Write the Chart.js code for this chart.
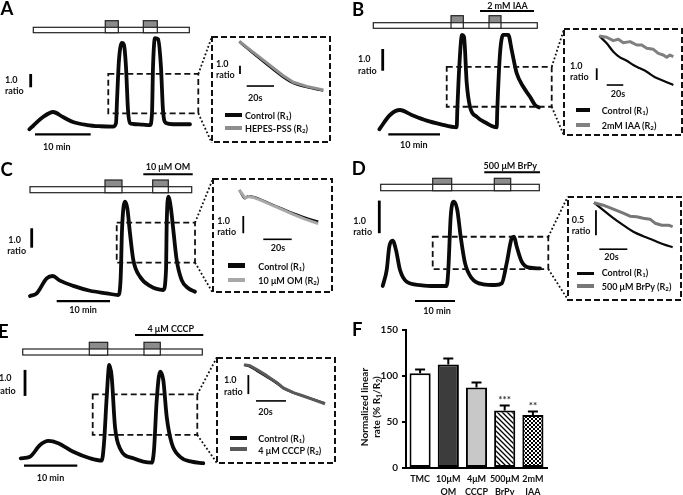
<!DOCTYPE html>
<html><head><meta charset="utf-8">
<script src="https://cdn.jsdelivr.net/npm/chart.js@4.4.1/dist/chart.umd.min.js"></script>
<style>
html,body{margin:0;padding:0;background:#fff}
body{position:relative;width:683px;height:495px;overflow:hidden;font-family:Lato,"Open Sans",sans-serif}
canvas{position:absolute}
.t{position:absolute;white-space:nowrap;font-weight:700;font-size:9px;line-height:1;color:#111;transform:translateY(-50%)}
.t sub{font-size:0.68em;vertical-align:-0.2em;line-height:0}
.c{transform:translate(-50%,-50%)}
.big{font-size:18.5px;color:#000}
.sw{position:absolute}
.yt{position:absolute;white-space:nowrap;font-weight:700;font-size:10px;line-height:11.7px;text-align:center;color:#111;transform:translate(-50%,-50%) rotate(-90deg)}
.yt sub{font-size:0.68em;vertical-align:-0.2em;line-height:0}
</style></head><body>
<script>
// ================= DATA =================
// Panel A — main Ca2+ trace (time, min ; fura-2 ratio)
const A_time  = [0,0.66,2.46,4.26,6.05,7.85,10.36,12.69,15.03,15.57,15.75,16.10,16.64,17.00,17.36,17.72,18.08,18.62,20.41,21.67,22.03,22.21,22.57,23.11,23.64,24.00,24.54,25.80,28.85];
const A_ratio = [0.50,0.75,1.42,1.80,1.42,1.05,0.82,0.73,0.70,0.97,2.70,5.71,6.99,6.83,5.18,1.95,0.97,0.90,0.85,0.82,1.73,5.18,7.36,7.28,5.18,1.95,0.97,0.88,0.88];
const A_perfusion  = [0.72, 28.73];
const A_pulseStart = [13.64, 20.47];
const A_pulseEnd   = [15.98, 22.98];
const A_zoomBox    = [14.18, 30.34, 1.70, 4.66];
const A_inTime     = [0,4.2,17.6,32.2,39.6,49.4,61.5];   // s
const A_inCtrl     = [8.00,7.40,5.59,3.71,2.99,2.51,2.10];
const A_inTestTime = [0,4.2,17.6,32.2,39.6,49.4,61.5];
const A_inTest     = [8.05,7.50,5.78,3.90,3.12,2.62,2.18];

// Panel B — 2 mM IAA
const B_time  = [0,2.07,4.00,6.27,9.17,11.74,14.97,15.09,15.47,16.00,16.38,16.91,17.54,18.84,20.77,22.71,22.82,23.35,23.98,24.95,25.61,26.58,27.85,29.15,30.12,30.89];
const B_ratio = [0.50,1.16,1.39,1.16,0.90,0.74,0.59,1.39,3.38,4.85,4.77,2.63,1.54,1.08,0.78,0.59,1.39,4.00,4.85,4.85,4.15,3.08,2.46,2.00,1.62,1.51];
const B_perfusion  = [-1.16, 30.56];
const B_pulseStart = [13.87, 21.22];
const B_pulseEnd   = [16.25, 23.54];
const B_drug       = [19.48, 29.92];
const B_zoomBox    = [13.04, 33.35, 1.54, 3.38];
const B_inTime     = [0,8.9,16.9,24.9,33.0,41.0,49.0,57.1,67.1,77.1,89.2];
const B_inCtrl     = [8.00,7.38,6.66,6.18,5.89,5.52,5.24,4.95,4.47,4.18,3.81];
const B_inTestTime = [0,8.9,16.9,22.9,28.9,37.0,45.1,51.1,57.1,65.1,71.1,77.1,81.2,85.2,89.2];
const B_inTest     = [8.00,7.89,7.60,7.72,7.43,7.52,7.23,7.23,6.95,6.86,6.52,6.38,6.18,6.38,6.23];

// Panel C — 10 µM oligomycin
const C_time  = [0,1.26,3.13,4.26,5.63,8.12,11.26,14.39,16.57,17.02,17.26,17.82,18.26,18.76,19.38,20.64,22.51,25.01,25.52,25.65,25.95,26.40,26.89,27.52,28.46,29.70,30.96];
const C_ratio = [0.50,0.64,1.41,1.53,1.29,1.02,0.77,0.64,0.55,1.49,3.90,5.36,5.02,3.73,2.36,1.49,1.02,0.81,1.84,4.25,5.62,5.10,3.90,2.36,1.32,0.90,0.72];
const C_perfusion  = [0, 30.34];
const C_pulseStart = [14.07, 23.02];
const C_pulseEnd   = [17.26, 25.95];
const C_drug       = [21.26, 30.53];
const C_zoomBox    = [16.27, 30.96, 2.22, 4.28];
const C_inTime     = [0,4.0,6.3,9.9,16.7,23.9,30.8,38.0,46.3,55.6];
const C_inCtrl     = [8.00,7.52,7.65,7.60,7.39,7.13,6.90,6.65,6.41,6.17];
const C_inTestTime = [0,4.0,6.3,9.9,16.7,23.9,30.8,38.0,46.3,55.6];
const C_inTest     = [8.00,7.55,7.62,7.57,7.36,7.09,6.85,6.59,6.32,6.06];

// Panel D — 500 µM BrPy
const D_time  = [0,1.00,1.65,2.50,3.33,4.33,6.00,9.33,12.65,16.00,16.40,17.00,17.83,18.65,19.50,20.58,22.25,25.15,28.08,29.75,31.00,32.25,32.83,33.50,34.75,36.40,39.33];
const D_ratio = [0.50,0.99,1.71,1.89,1.60,0.99,0.63,0.53,0.50,0.50,0.99,2.63,3.09,2.83,2.01,1.20,0.74,0.55,0.53,0.58,1.20,1.96,2.01,1.71,1.25,1.07,1.04];
const D_perfusion  = [-0.50, 39.15];
const D_pulseStart = [12.50, 27.90];
const D_pulseEnd   = [17.25, 32.00];
const D_drug       = [25.40, 39.33];
const D_zoomBox    = [12.50, 41.40, 1.02, 2.01];
const D_inTime     = [0,6.6,13.8,20.9,28.1,35.2,42.4,49.5,56.2];
const D_inCtrl     = [3.00,2.85,2.69,2.55,2.42,2.33,2.25,2.17,2.11];
const D_inTestTime = [0,6.6,13.8,20.9,25.7,30.5,35.2,40.0,43.6,48.4,53.1,56.2];
const D_inTest     = [3.00,2.95,2.87,2.79,2.73,2.72,2.69,2.67,2.59,2.55,2.55,2.52];

// Panel E — 4 µM CCCP
const E_time  = [0,1.74,3.62,5.18,7.05,9.87,13.00,15.20,15.63,16.14,16.62,17.07,17.69,18.63,21.13,24.58,25.01,25.52,26.14,26.75,27.39,28.33,29.89,32.08,34.26];
const E_ratio = [0.50,0.56,1.01,1.17,1.08,0.75,0.50,0.41,1.08,2.87,4.09,3.64,1.72,0.88,0.50,0.33,0.82,2.74,3.83,3.51,2.10,1.08,0.56,0.37,0.31];
const E_perfusion  = [0.38, 34.07];
const E_pulseStart = [12.87, 23.13];
const E_pulseEnd   = [16.32, 26.19];
const E_drug       = [21.44, 34.26];
const E_zoomBox    = [13.51, 33.13, 1.40, 2.96];
const E_inTime     = [0,4.0,8.5,15.1,21.8,26.2,32.9,39.5,46.2,54.0];
const E_inCtrl     = [8.00,7.91,7.70,7.38,7.04,6.77,6.54,6.37,6.19,5.98];
const E_inTestTime = [0,4.0,8.5,15.1,21.8,26.2,32.9,39.5,46.2,54.0];
const E_inTest     = [8.02,7.96,7.76,7.44,7.08,6.80,6.55,6.37,6.18,5.96];

// Panel F — normalized linear rate (% R1/R2)
const F_categories = [['TMC'],['10\u03bcM','OM'],['4\u03bcM','CCCP'],['500\u03bcM','BrPy'],['2mM','IAA']];
const F_mean = [103, 112.5, 87.5, 62.5, 57.5];
const F_sem  = [4.2, 6.4, 5.3, 5.3, 4.0];
const F_sig  = ['', '', '', '***', '**'];

// Text labels
const LABELS = {
  A:{drug:null, ctrl:'Control (R<sub>1</sub>)', test:'HEPES-PSS (R<sub>2</sub>)', vbar:'1.0', ivbar:'1.0'},
  B:{drug:'2 mM IAA', ctrl:'Control (R<sub>1</sub>)', test:'2mM IAA (R<sub>2</sub>)', vbar:'1.0', ivbar:'1.0'},
  C:{drug:'10 \u03bcM OM', ctrl:'Control (R<sub>1</sub>)', test:'10 \u03bcM OM (R<sub>2</sub>)', vbar:'1.0', ivbar:'1.0'},
  D:{drug:'500 \u03bcM BrPy', ctrl:'Control (R<sub>1</sub>)', test:'500 \u03bcM BrPy (R<sub>2</sub>)', vbar:'1.0', ivbar:'0.5'},
  E:{drug:'4 \u03bcM CCCP', ctrl:'Control (R<sub>1</sub>)', test:'4 \u03bcM CCCP (R<sub>2</sub>)', vbar:'1.0', ivbar:'1.0'}
};

// ================= LAYOUT (positions & styles) =================
const LAY = {
 A:{letter:[0.5,8], main:{rect:[0,0,340,158],X0:29.3,ppx:5.57,Y0:129.3,r0:0.5,ppy:13.3},
    proto:{yRaise:20.7,yTop:27.3,yBot:32.7}, drugY:null, drugTxt:null,
    ten:{t:1.02,r:0.12}, one:{t:0.25,r:3.66,len:1},
    inset:{l:211.7,t:37.3,r:330,b:142.7,X0:239.3,pps:1.365,Y0:41.7,r0:8,ppy:8.3,vbar:{t:0.5,r:4.11,len:1},hbar:{t:5.42,r:2.66}},
    testColor:'#8e8e8e', sw:4,
    txt:{one:[5,79,5,90], ten:[43,146], iv:[216,63,216,74], s20:[248,97], leg:[225,242,115,128,245,115,128]}},
 B:{letter:[352,8.5], main:{rect:[340,0,343,158],X0:379.3,ppx:5.17,Y0:129.3,r0:0.5,ppy:21.7},
    proto:{yRaise:15.7,yTop:22.7,yBot:28.3}, drugY:11, drugTxt:[507.5,5],
    ten:{t:1.74,r:0.27}, one:{t:0.66,r:3.20,len:1},
    inset:{l:564,t:29.3,r:681.7,b:135.7,X0:599.3,pps:0.83,Y0:36,r0:8,ppy:11.7,vbar:{t:-3.1,r:4.24,len:1},hbar:{t:8.9,r:3.81}},
    testColor:'#808080', sw:3.5,
    txt:{one:[358,57.5,358,70.3], ten:[400,144], iv:[570,65,570,76], s20:[610.7,93.3], leg:[575.7,590,110,125,601.7,110,125]}},
 C:{letter:[0.5,169], main:{rect:[0,158,340,160],X0:30,ppx:5.33,Y0:296,r0:0.5,ppy:19.4},
    proto:{yRaise:180,yTop:186.7,yBot:192.7}, drugY:174.3, drugTxt:[168,166],
    ten:{t:5.01,r:0.24}, one:{t:0.32,r:2.99,len:1},
    inset:{l:212.7,t:179.3,r:331.7,b:292.7,X0:239.3,pps:1.42,Y0:190,r0:8,ppy:17.3,vbar:{t:2.8,r:5.50,len:1},hbar:{t:16.9,r:5.15}},
    testColor:'#a8a8a8', sw:4.5,
    txt:{one:[8.3,239.3,7.3,250], ten:[69.3,309.3], iv:[217.3,220,217.3,231], s20:[270.7,247.3], leg:[228.3,245,265.7,280,258.3,265.7,280]}},
 D:{letter:[351.7,168.3], main:{rect:[340,158,343,160],X0:382.7,ppx:4.0,Y0:286,r0:0.5,ppy:32.6},
    proto:{yRaise:178.3,yTop:184.3,yBot:190.7}, drugY:172.3, drugTxt:[510.3,165],
    ten:{t:8.08,r:0.04}, one:{t:-0.85,r:2.12,len:1},
    inset:{l:567.7,t:196.7,r:680.7,b:299.3,X0:594,pps:1.4,Y0:202.7,r0:3,ppy:50,vbar:{t:1.4,r:2.35,len:0.5},hbar:{t:3.8,r:2.07}},
    testColor:'#777777', sw:3.5,
    txt:{one:[353.3,220,353.3,230.7], ten:[423.3,310], iv:[571.7,219,571.7,230], s20:[604.3,256], leg:[576.7,594,273.3,286,601.7,271.5,286]}},
 E:{letter:[-2,331], main:{rect:[0,318,340,177],X0:20.7,ppx:5.33,Y0:458.3,r0:0.5,ppy:26},
    proto:{yRaise:342.3,yTop:349,yBot:355}, drugY:335, drugTxt:[170.8,328.3],
    ten:{t:0.62,r:0.22}, one:{t:0.81,r:2.90,len:1},
    inset:{l:216.7,t:357.7,r:335,b:462.7,X0:244,pps:1.5,Y0:365,r0:8,ppy:19,vbar:{t:2.9,r:6.47,len:1},hbar:{t:8.0,r:6.11}},
    testColor:'#595959', sw:4,
    txt:{one:[-1,376.7,-3,390], ten:[36.7,476.7], iv:[224,379.3,224,390.7], s20:[258.3,410.7], leg:[230,246.7,438.3,449.3,258.3,438.3,450]}}
};

const DATA = {
 A:{time:A_time, ratio:A_ratio, perf:A_perfusion, ps:A_pulseStart, pe:A_pulseEnd, drug:null, box:A_zoomBox, it:A_inTime, ic:A_inCtrl, itt:A_inTestTime, itv:A_inTest},
 B:{time:B_time, ratio:B_ratio, perf:B_perfusion, ps:B_pulseStart, pe:B_pulseEnd, drug:B_drug, box:B_zoomBox, it:B_inTime, ic:B_inCtrl, itt:B_inTestTime, itv:B_inTest},
 C:{time:C_time, ratio:C_ratio, perf:C_perfusion, ps:C_pulseStart, pe:C_pulseEnd, drug:C_drug, box:C_zoomBox, it:C_inTime, ic:C_inCtrl, itt:C_inTestTime, itv:C_inTest},
 D:{time:D_time, ratio:D_ratio, perf:D_perfusion, ps:D_pulseStart, pe:D_pulseEnd, drug:D_drug, box:D_zoomBox, it:D_inTime, ic:D_inCtrl, itt:D_inTestTime, itv:D_inTest},
 E:{time:E_time, ratio:E_ratio, perf:E_perfusion, ps:E_pulseStart, pe:E_pulseEnd, drug:E_drug, box:E_zoomBox, it:E_inTime, ic:E_inCtrl, itt:E_inTestTime, itv:E_inTest}
};

// ================= HELPERS =================
function mk(l,t,w,h){
  const c=document.createElement('canvas');
  c.width=w; c.height=h;
  c.style.left=l+'px'; c.style.top=t+'px'; c.style.width=w+'px'; c.style.height=h+'px';
  document.body.appendChild(c); return c;
}
function txt(s,x,y,cls){
  const d=document.createElement('div');
  d.className='t'+(cls?' '+cls:''); d.innerHTML=s;
  d.style.left=x+'px'; d.style.top=y+'px';
  document.body.appendChild(d); return d;
}
function swatch(x1,x2,y,h,color){
  const d=document.createElement('div'); d.className='sw';
  d.style.left=x1+'px'; d.style.top=(y-h/2)+'px'; d.style.width=(x2-x1)+'px'; d.style.height=h+'px';
  d.style.background=color; document.body.appendChild(d);
}
const pts=(xs,ys)=>xs.map((x,i)=>({x:x,y:ys[i]}));
function baseOpts(xmin,xmax,ymin,ymax){
  return {responsive:false,animation:false,events:[],devicePixelRatio:1,
    layout:{padding:0},
    plugins:{legend:{display:false},tooltip:{enabled:false}},
    scales:{x:{type:'linear',display:false,min:xmin,max:xmax},
            y:{type:'linear',display:false,min:ymin,max:ymax}}};
}

function drawPanel(k){
  const L=LAY[k], D=DATA[k], T=LABELS[k], m=L.main;
  const [l,t,w,h]=m.rect;
  const cv=mk(l,t,w,h);
  const xmin=(l-m.X0)/m.ppx, xmax=(l+w-m.X0)/m.ppx;
  const ymax=m.r0+(m.Y0-t)/m.ppy, ymin=m.r0-(t+h-m.Y0)/m.ppy;
  const I=L.inset;
  const deco={id:'deco'+k, afterDatasetsDraw(chart){
    const ctx=chart.ctx, X=chart.scales.x, Y=chart.scales.y;
    const px=v=>X.getPixelForValue(v), py=v=>Y.getPixelForValue(v);
    const gy=v=>v-t, gx=v=>v-l;
    const pr=L.proto;
    ctx.save();
    // perfusion protocol bar
    ctx.lineWidth=1.2; ctx.strokeStyle='#222';
    const xa=px(D.perf[0]), xb=px(D.perf[1]);
    ctx.fillStyle='#fff';
    ctx.fillRect(xa,gy(pr.yTop),xb-xa,pr.yBot-pr.yTop);
    ctx.strokeRect(xa,gy(pr.yTop),xb-xa,pr.yBot-pr.yTop);
    D.ps.forEach((s,i)=>{
      const x1=px(s), x2=px(D.pe[i]);
      ctx.fillStyle='#fff'; ctx.fillRect(x1,gy(pr.yRaise),x2-x1,pr.yBot-pr.yRaise);
      ctx.fillStyle='#8c8c8c'; ctx.fillRect(x1,gy(pr.yRaise),x2-x1,pr.yTop-pr.yRaise);
      ctx.strokeRect(x1,gy(pr.yRaise),x2-x1,pr.yBot-pr.yRaise);
      ctx.beginPath(); ctx.moveTo(x1,gy(pr.yTop)); ctx.lineTo(x2,gy(pr.yTop)); ctx.stroke();
    });
    // drug application bar
    if(D.drug){
      ctx.lineWidth=2; ctx.strokeStyle='#000';
      ctx.beginPath(); ctx.moveTo(px(D.drug[0]),gy(L.drugY)); ctx.lineTo(px(D.drug[1]),gy(L.drugY)); ctx.stroke();
    }
    // scale bars
    ctx.strokeStyle='#000';
    ctx.lineWidth=2.2;
    ctx.beginPath(); ctx.moveTo(px(L.ten.t),py(L.ten.r)); ctx.lineTo(px(L.ten.t+10),py(L.ten.r)); ctx.stroke();
    ctx.lineWidth=2.8;
    ctx.beginPath(); ctx.moveTo(px(L.one.t),py(L.one.r)); ctx.lineTo(px(L.one.t),py(L.one.r+L.one.len)); ctx.stroke();
    // zoom box
    const b=D.box;
    ctx.lineWidth=1.8; ctx.setLineDash([6,3.5]); ctx.strokeStyle='#111';
    ctx.strokeRect(px(b[0]),py(b[3]),px(b[1])-px(b[0]),py(b[2])-py(b[3]));
    // connectors
    ctx.setLineDash([1.8,2.2]);
    ctx.beginPath();
    ctx.moveTo(px(b[1]),py(b[3])); ctx.lineTo(gx(I.l),gy(I.t));
    ctx.moveTo(px(b[1]),py(b[2])); ctx.lineTo(gx(I.l),gy(I.b));
    ctx.stroke();
    ctx.restore();
  }};
  new Chart(cv,{type:'line',
    data:{datasets:[{data:pts(D.time,D.ratio),borderColor:'#0a0a0a',borderWidth:3.8,pointRadius:0,
      cubicInterpolationMode:'monotone',fill:false,borderJoinStyle:'round',borderCapStyle:'round'}]},
    options:baseOpts(xmin,xmax,ymin,ymax), plugins:[deco]});

  // inset
  const il=Math.round(I.l)-1, it=Math.round(I.t)-1, iw=Math.round(I.r-I.l)+2, ih=Math.round(I.b-I.t)+2;
  const ic=mk(il,it,iw,ih);
  const ixmin=(il-I.X0)/I.pps, ixmax=(il+iw-I.X0)/I.pps;
  const iymax=I.r0+(I.Y0-it)/I.ppy, iymin=I.r0-(it+ih-I.Y0)/I.ppy;
  const ideco={id:'ideco'+k, afterDatasetsDraw(chart){
    const ctx=chart.ctx, X=chart.scales.x, Y=chart.scales.y;
    const px=v=>X.getPixelForValue(v), py=v=>Y.getPixelForValue(v);
    ctx.save();
    ctx.strokeStyle='#111'; ctx.lineWidth=2; ctx.setLineDash([6,3]);
    ctx.strokeRect(1,1,iw-2,ih-2);
    ctx.setLineDash([]); ctx.strokeStyle='#000';
    ctx.lineWidth=1.8;
    ctx.beginPath(); ctx.moveTo(px(I.vbar.t),py(I.vbar.r)); ctx.lineTo(px(I.vbar.t),py(I.vbar.r+I.vbar.len)); ctx.stroke();
    ctx.lineWidth=1.6;
    ctx.beginPath(); ctx.moveTo(px(I.hbar.t),py(I.hbar.r)); ctx.lineTo(px(I.hbar.t+20),py(I.hbar.r)); ctx.stroke();
    ctx.restore();
  }};
  new Chart(ic,{type:'line',
    data:{datasets:[
      {data:pts(D.itt,D.itv),borderColor:L.testColor,borderWidth:3,pointRadius:0,tension:0,fill:false,borderJoinStyle:'round'},
      {data:pts(D.it,D.ic),borderColor:'#0a0a0a',borderWidth:2.2,pointRadius:0,cubicInterpolationMode:'monotone',fill:false}
    ]},
    options:baseOpts(ixmin,ixmax,iymin,iymax), plugins:[ideco]});

  // texts
  const X=L.txt;
  txt(k,L.letter[0],L.letter[1],'big');
  txt(T.vbar,X.one[0],X.one[1]); txt('ratio',X.one[2],X.one[3]);
  txt('10 min',X.ten[0],X.ten[1]);
  if(T.drug) txt(T.drug,L.drugTxt[0],L.drugTxt[1],'c');
  txt(T.ivbar,X.iv[0],X.iv[1]); txt('ratio',X.iv[2],X.iv[3]);
  txt('20s',X.s20[0],X.s20[1]);
  const g=X.leg;
  swatch(g[0],g[1],g[2],L.sw,'#0a0a0a');
  swatch(g[0],g[1],g[3],L.sw,L.testColor);
  txt(T.ctrl,g[4],g[5]); txt(T.test,g[4],g[6]);
}

['A','B','C','D','E'].forEach(drawPanel);

// ================= PANEL F =================
function hatch(){
  const c=document.createElement('canvas'); c.width=c.height=5;
  const g=c.getContext('2d'); g.fillStyle='#fff'; g.fillRect(0,0,5,5);
  g.strokeStyle='#000'; g.lineWidth=1.3;
  g.beginPath(); g.moveTo(0,0); g.lineTo(5,5); g.moveTo(-1,4); g.lineTo(1,6); g.moveTo(4,-1); g.lineTo(6,1); g.stroke();
  return g.createPattern(c,'repeat');
}
function checker(){
  const c=document.createElement('canvas'); c.width=c.height=4;
  const g=c.getContext('2d'); g.fillStyle='#fff'; g.fillRect(0,0,4,4);
  g.fillStyle='#000'; g.fillRect(0,0,2,2); g.fillRect(2,2,2,2);
  return g.createPattern(c,'repeat');
}
const fc=mk(345,320,210,175);
const errPlugin={id:'err',afterDatasetsDraw(chart){
  const ctx=chart.ctx, Y=chart.scales.y, meta=chart.getDatasetMeta(0);
  ctx.save(); ctx.strokeStyle='#000'; ctx.lineWidth=2;
  F_mean.forEach((v,i)=>{
    const bx=meta.data[i].x, y0=Y.getPixelForValue(v), y1=Y.getPixelForValue(v+F_sem[i]);
    ctx.beginPath(); ctx.moveTo(bx,y0); ctx.lineTo(bx,y1); ctx.moveTo(bx-5,y1); ctx.lineTo(bx+5,y1); ctx.stroke();
    if(F_sig[i]){
      ctx.fillStyle='#333'; ctx.font='bold 10px Lato'; ctx.textAlign='center'; ctx.textBaseline='bottom';
      ctx.fillText(F_sig[i],bx,y1-1);
    }
  });
  ctx.restore();
}};
new Chart(fc,{type:'bar',
  data:{labels:F_categories,datasets:[{data:F_mean,
    backgroundColor:['#ffffff','#3c3c3c','#c8c8c8',hatch(),checker()],
    borderColor:'#000',borderWidth:2,borderSkipped:false,barPercentage:0.75,categoryPercentage:1}]},
  options:{responsive:false,animation:false,events:[],devicePixelRatio:1,
    layout:{padding:{left:0,right:8,top:8,bottom:0}},
    plugins:{legend:{display:false},tooltip:{enabled:false}},
    scales:{
      y:{min:0,max:150,afterFit(s){s.width=61;},
         ticks:{stepSize:50,color:'#111',padding:4,font:{family:'Lato',size:10,weight:'bold'}},
         grid:{display:true,drawOnChartArea:false,tickLength:4,color:'#000',lineWidth:2},
         border:{display:true,color:'#000',width:2}},
      x:{afterFit(s){s.height=27;},
         ticks:{color:'#111',padding:4,maxRotation:0,autoSkip:false,font:{family:'Lato',size:9,weight:'bold',lineHeight:1.5}},
         grid:{display:false,drawTicks:false},
         border:{display:true,color:'#000',width:2}}
    }},
  plugins:[errPlugin]});
txt('F',352,329,'big');
const yt=document.createElement('div'); yt.className='yt';
yt.innerHTML='Normalized linear<br>rate (% R<sub>1</sub>/R<sub>2</sub>)';
yt.style.left='371px'; yt.style.top='406.5px'; document.body.appendChild(yt);
</script>
</body></html>
